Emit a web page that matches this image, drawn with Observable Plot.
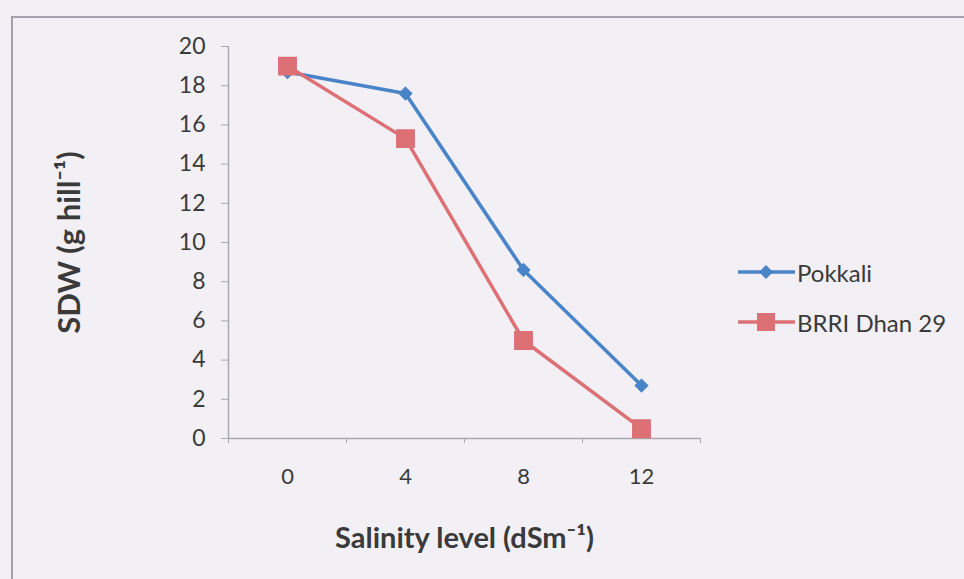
<!DOCTYPE html>
<html><head><meta charset="utf-8">
<script src="https://cdn.jsdelivr.net/npm/d3@7"></script>
<script src="https://cdn.jsdelivr.net/npm/@observablehq/plot@0.6"></script>
<style>
body{margin:0;background:#f2f0f5;width:964px;height:579px;overflow:hidden;position:relative;font-family:Lato,"Open Sans",sans-serif;}
#frame{position:absolute;left:11px;top:16px;width:1000px;height:620px;border-left:2px solid #a3a1ad;border-top:2px solid #a3a1ad;}
#chart{position:absolute;left:0;top:0}
#legend{position:absolute;left:738px;top:247px;font-size:24px;color:#3a3a3a}
.item{display:flex;align-items:center;height:50px}
.item svg{margin-right:2px}
</style></head><body>
<div id="frame"></div><div id="chart"></div><div id="legend"></div>
<script>
const salinity = [0, 4, 8, 12];
const salinityLabels = ["0", "4", "8", "12"];
const pokkali = [18.7, 17.6, 8.6, 2.7];
const brri = [19.0, 15.3, 5.0, 0.5];
const seriesNames = ["Pokkali", "BRRI Dhan 29"];
const seriesColors = ["#4a84c8", "#dd7075"];
const yTicks = [0, 2, 4, 6, 8, 10, 12, 14, 16, 18, 20];
const xBoundaries = [-2, 2, 6, 10, 14];
const yTitle = "SDW (g hill\u207B\u00B9)";
const xTitle = "Salinity level (dSm\u207B\u00B9)";

const data = [];
salinity.forEach((s, i) => {
  data.push({s, v: pokkali[i], series: seriesNames[0]});
  data.push({s, v: brri[i], series: seriesNames[1]});
});
const pData = data.filter(d => d.series === seriesNames[0]);
const bData = data.filter(d => d.series === seriesNames[1]);

const chart = Plot.plot({
  width: 964, height: 579,
  marginLeft: 228, marginRight: 264, marginTop: 46, marginBottom: 141,
  style: {background: "transparent", fontFamily: "Lato, 'Open Sans', sans-serif", color: "#3a3a3a"},
  x: {domain: [-2, 14], axis: null},
  y: {domain: [0, 20], axis: null},
  marks: [
    Plot.ruleY([0], {stroke: "#a8a8b0", strokeWidth: 1.5}),
    Plot.ruleX([-2], {stroke: "#a8a8b0", strokeWidth: 1.5}),
    Plot.axisY({ticks: yTicks, tickSize: 7, tickPadding: 16, fontSize: 23, stroke: "#a8a8b0", fill: "#3a3a3a", label: null}),
    Plot.axisX({ticks: xBoundaries, tickSize: 5, tickFormat: () => "", stroke: "#a8a8b0", label: null}),
    Plot.axisX({ticks: salinity, tickSize: 0, tickPadding: 30, fontSize: 22, fill: "#3a3a3a", tickFormat: (d) => salinityLabels[salinity.indexOf(d)], label: null}),
    Plot.text([yTitle], {frameAnchor: "left", textAnchor: "middle", lineAnchor: "middle", rotate: -90, dx: -158, fontSize: 31, fontWeight: "bold", fill: "#3a3a3a"}),
    Plot.text([xTitle], {frameAnchor: "bottom", lineAnchor: "middle", dy: 100, fontSize: 29, fontWeight: "bold", fill: "#3a3a3a"}),
    Plot.line(pData, {x: "s", y: "v", stroke: seriesColors[0], strokeWidth: 3.5}),
    Plot.line(bData, {x: "s", y: "v", stroke: seriesColors[1], strokeWidth: 3.5}),
    Plot.dot(pData, {x: "s", y: "v", symbol: "diamond2", r: 5.5, fill: seriesColors[0], stroke: seriesColors[0]}),
    Plot.dot(bData, {x: "s", y: "v", symbol: "square", r: 9.8, fill: seriesColors[1], stroke: seriesColors[1]})
  ]
});
document.getElementById("chart").appendChild(chart);

const legend = document.getElementById("legend");
seriesNames.forEach((name, i) => {
  const item = document.createElement("div");
  item.className = "item";
  const marker = i === 0
    ? `<path d="M28,-7L35,0L28,7L21,0Z" fill="${seriesColors[0]}"/>`
    : `<rect x="19" y="-9" width="18" height="18" fill="${seriesColors[1]}"/>`;
  item.innerHTML = `<svg width="57" height="24" viewBox="0 -12 57 24"><line x1="0" x2="57" y1="0" y2="0" stroke="${seriesColors[i]}" stroke-width="3.5"/>${marker}</svg><span>${name}</span>`;
  legend.appendChild(item);
});
</script>
</body></html>
